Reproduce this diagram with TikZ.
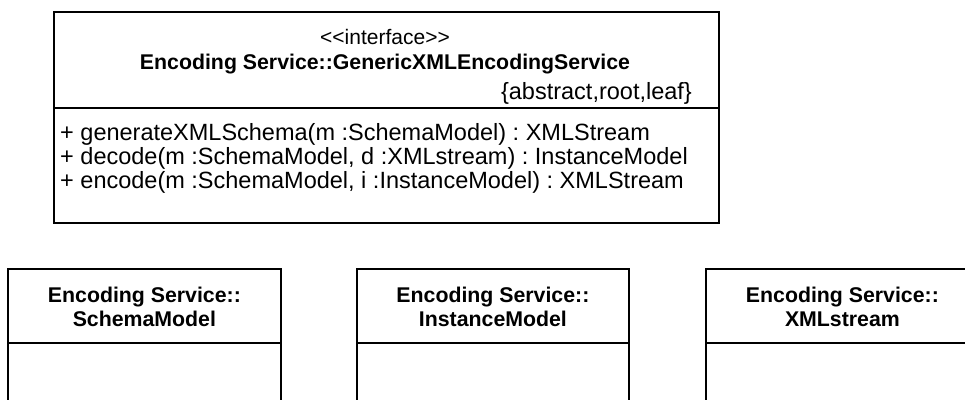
\documentclass[tikz,border=0pt]{standalone}
\usepackage{fontspec}
\setmainfont{Liberation Sans}
\frenchspacing
\begin{document}
\begin{tikzpicture}[x=1pt,y=-1pt,
  box/.style={draw=black, line width=1.8pt, inner sep=0pt, anchor=north west},
  txt/.style={font=\fontsize{23.5}{24}\selectfont, inner sep=0pt},
  stxt/.style={font=\fontsize{21}{24}\selectfont, inner sep=0pt},
  btxt/.style={font=\fontsize{21.3}{24}\selectfont\bfseries, inner sep=0pt, align=center},
  sep/.style={draw=black, line width=1.8pt}]
\clip (0,0) rectangle (965,399);
% interface box
\node[box, minimum width=665pt, minimum height=211pt] (iface) at (53,11) {};
\coordinate (d1l) at (53,108);
\coordinate (d1r) at (718,108);
\draw[sep] (d1l) -- (d1r);
\node[stxt, anchor=base] (stereo) at (385,44) {<{}<interface>{}>};
\node[btxt, anchor=base] (title) at (385,69) {Encoding Service::GenericXMLEncodingService};
\node[txt, anchor=base east] (props) at (692,99) {\{abstract,root,leaf\}};
\node[txt, anchor=base west] (op1) at (60,140) {+ generateXMLSchema(m :SchemaModel) : XMLStream};
\node[txt, anchor=base west] (op2) at (60,164) {+ decode(m :SchemaModel, d :XMLstream) : InstanceModel};
\node[txt, anchor=base west] (op3) at (60,188) {+ encode(m :SchemaModel, i :InstanceModel) : XMLStream};
% bottom boxes
\node[box, minimum width=273pt, minimum height=200pt] (sm) at (7,268) {};
\node[box, minimum width=272pt, minimum height=200pt] (im) at (356,268) {};
\node[box, minimum width=273pt, minimum height=200pt] (xs) at (705,268) {};
\foreach \b/\t in {sm/SchemaModel, im/InstanceModel, xs/XMLstream}{
  \coordinate (\b L) at ([yshift=-75pt]\b.north west);
  \coordinate (\b R) at ([yshift=-75pt]\b.north east);
  \draw[sep] (\b L) -- (\b R);
  \node[btxt, anchor=center] (\b txt) at ([yshift=-39pt]\b.north) {Encoding Service::\\\t};
}
\end{tikzpicture}
\end{document}
